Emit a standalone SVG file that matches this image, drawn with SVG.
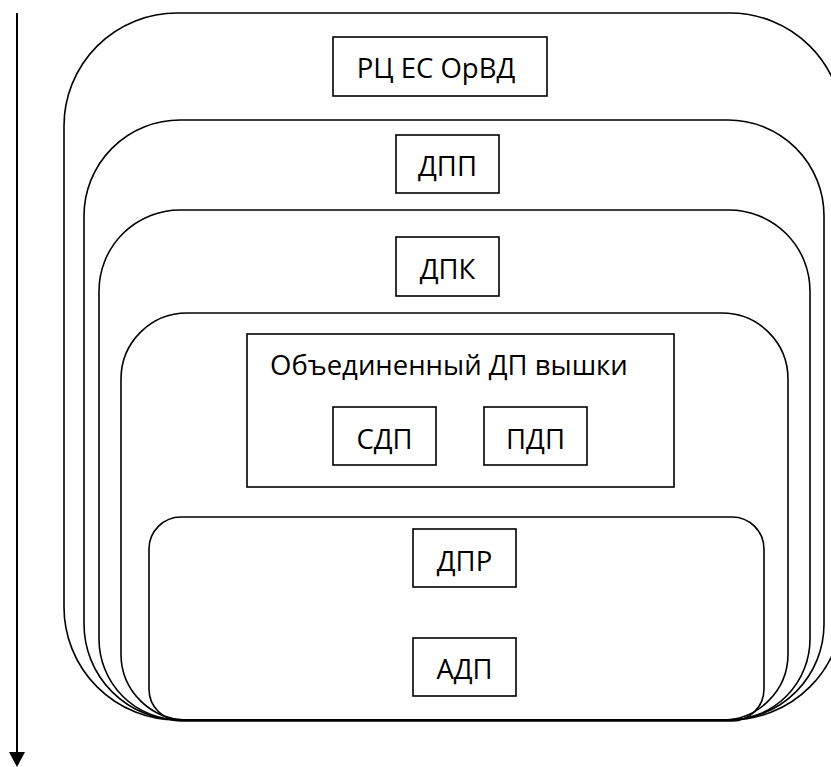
<svg xmlns="http://www.w3.org/2000/svg" width="831" height="767" viewBox="0 0 831 767">
<style>
  .zone { fill: none; stroke: #000; stroke-width: 1.6; }
  .box { fill: #fff; stroke: #000; stroke-width: 1.6; }
  .lbl { font-family: "Open Sans", "Liberation Sans", sans-serif; font-size: 27.5px; fill: #000; }
</style>
<rect width="831" height="767" fill="#fff"/>
<g id="connectors">
  <line x1="17" y1="13" x2="17" y2="754" stroke="#000" stroke-width="2"/>
  <polygon points="9,752 25,752 17,767" fill="#000"/>
</g>
<g id="zone-rc">
  <rect class="zone" x="64" y="13" width="779" height="707" rx="113" ry="113"/>
</g>
<g id="zone-dpp">
  <rect class="zone" x="84" y="120" width="740" height="600" rx="96" ry="96"/>
</g>
<g id="zone-dpk">
  <rect class="zone" x="99" y="210" width="711" height="510" rx="81" ry="81"/>
</g>
<g id="zone-tower">
  <rect class="zone" x="121" y="313" width="667" height="407" rx="66" ry="66"/>
</g>
<g id="zone-aerodrome">
  <rect class="zone" x="149" y="517" width="615" height="204" rx="32" ry="32"/>
</g>
<g id="node-rc">
  <rect class="box" x="333" y="37" width="214" height="59"/>
  <text class="lbl" x="436" y="78" text-anchor="middle">РЦ ЕС ОрВД</text>
</g>
<g id="node-dpp">
  <rect class="box" x="396" y="135" width="103" height="58"/>
  <text class="lbl" x="447.5" y="176" text-anchor="middle">ДПП</text>
</g>
<g id="node-dpk">
  <rect class="box" x="396" y="237" width="103" height="59"/>
  <text class="lbl" x="447.5" y="279" text-anchor="middle">ДПК</text>
</g>
<g id="node-tower">
  <rect class="box" x="247" y="334" width="427" height="153"/>
  <text class="lbl" x="270" y="375">Объединенный ДП вышки</text>
</g>
<g id="node-sdp">
  <rect class="box" x="333" y="407" width="103" height="58"/>
  <text class="lbl" x="384.5" y="449" text-anchor="middle">СДП</text>
</g>
<g id="node-pdp">
  <rect class="box" x="484" y="407" width="103" height="58"/>
  <text class="lbl" x="535.5" y="449" text-anchor="middle">ПДП</text>
</g>
<g id="node-dpr">
  <rect class="box" x="413" y="529" width="103" height="58"/>
  <text class="lbl" x="464.5" y="571" text-anchor="middle">ДПР</text>
</g>
<g id="node-adp">
  <rect class="box" x="413" y="638" width="103" height="58"/>
  <text class="lbl" x="464.5" y="679" text-anchor="middle">АДП</text>
</g>
</svg>
